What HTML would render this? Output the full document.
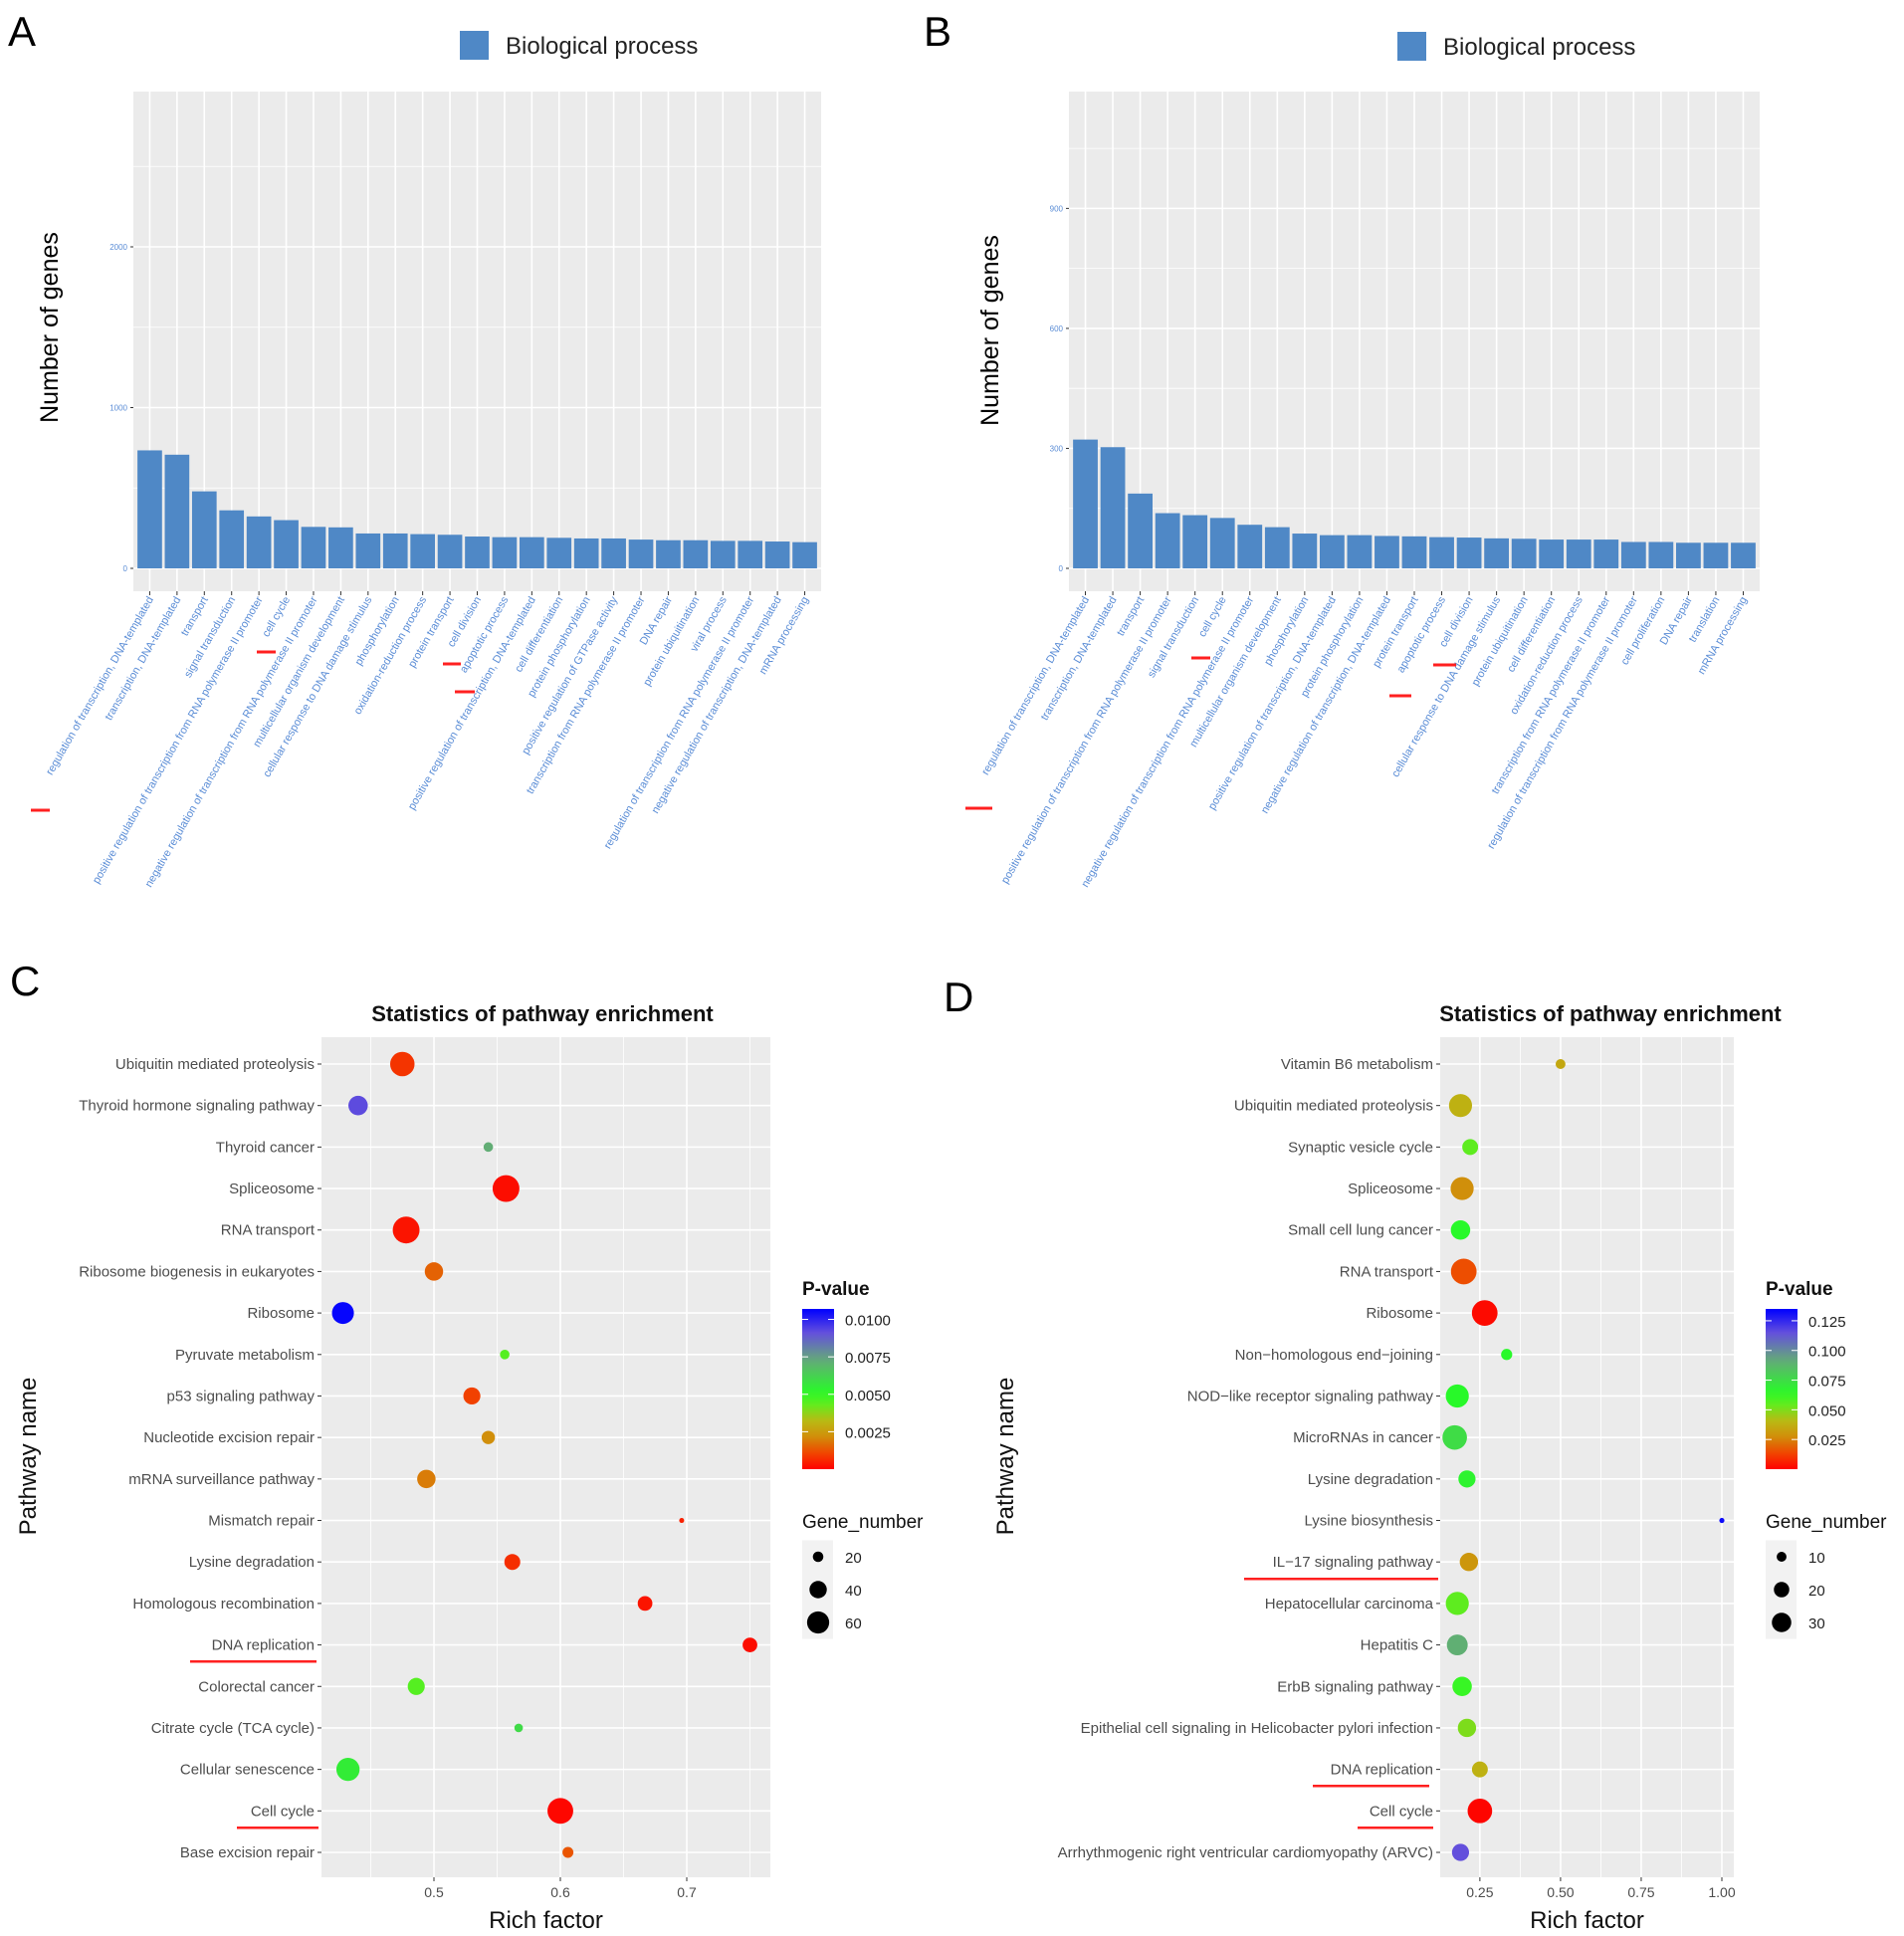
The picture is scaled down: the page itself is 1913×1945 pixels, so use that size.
<!DOCTYPE html>
<html><head><meta charset="utf-8"><style>
html,body{margin:0;padding:0;background:#fff;}
svg{display:block;font-family:"Liberation Sans",Arial,sans-serif;}
</style></head><body>
<svg id="fig" width="1913" height="1945" viewBox="0 0 1913 1945" xmlns="http://www.w3.org/2000/svg"></svg>
<script>
// ---- Panel A data ----
const catsA = ["regulation of transcription, DNA-templated","transcription, DNA-templated","transport","signal transduction","positive regulation of transcription from RNA polymerase II promoter","cell cycle","negative regulation of transcription from RNA polymerase II promoter","multicellular organism development","cellular response to DNA damage stimulus","phosphorylation","oxidation-reduction process","protein transport","cell division","apoptotic process","positive regulation of transcription, DNA-templated","cell differentiation","protein phosphorylation","positive regulation of GTPase activity","transcription from RNA polymerase II promoter","DNA repair","protein ubiquitination","viral process","regulation of transcription from RNA polymerase II promoter","negative regulation of transcription, DNA-templated","mRNA processing"];
const valsA = [734,707,479,361,323,300,258,255,217,217,213,209,198,194,194,190,186,186,179,175,175,171,171,167,163];
const ticksA = [0,1000,2000];
// ---- Panel B data ----
const catsB = ["regulation of transcription, DNA-templated","transcription, DNA-templated","transport","positive regulation of transcription from RNA polymerase II promoter","signal transduction","cell cycle","negative regulation of transcription from RNA polymerase II promoter","multicellular organism development","phosphorylation","positive regulation of transcription, DNA-templated","protein phosphorylation","negative regulation of transcription, DNA-templated","protein transport","apoptotic process","cell division","cellular response to DNA damage stimulus","protein ubiquitination","cell differentiation","oxidation-reduction process","transcription from RNA polymerase II promoter","regulation of transcription from RNA polymerase II promoter","cell proliferation","DNA repair","translation","mRNA processing"];
const valsB = [322,303,187,138,133,126,109,103,87,83,83,81,80,78,77,75,74,72,72,72,66,66,64,64,64];
const ticksB = [0,300,600,900];
// ---- Panel C data ----
const pathC = ["Ubiquitin mediated proteolysis","Thyroid hormone signaling pathway","Thyroid cancer","Spliceosome","RNA transport","Ribosome biogenesis in eukaryotes","Ribosome","Pyruvate metabolism","p53 signaling pathway","Nucleotide excision repair","mRNA surveillance pathway","Mismatch repair","Lysine degradation","Homologous recombination","DNA replication","Colorectal cancer","Citrate cycle (TCA cycle)","Cellular senescence","Cell cycle","Base excision repair"];
const richC = [0.475,0.44,0.543,0.557,0.478,0.5,0.428,0.556,0.53,0.543,0.494,0.696,0.562,0.667,0.75,0.486,0.567,0.432,0.6,0.606];
const pvalC = [0.0008,0.0092,0.0072,0.0002,0.0003,0.0015,0.0106,0.0045,0.001,0.0022,0.0019,0.0005,0.0007,0.0003,0.0002,0.0045,0.006,0.0055,0.0001,0.0013];
const geneC = [71,48,18,84,84,44,59,18,39,27,44,11,35,31,31,39,16,65,78,21];
const xticksC = [0.5,0.6,0.7];
const pticksC = [0.0025,0.005,0.0075,0.01];
const pticksLabC = ["0.0025","0.0050","0.0075","0.0100"];
const sizeLegC = [20,40,60];
// ---- Panel D data ----
const pathD = ["Vitamin B6 metabolism","Ubiquitin mediated proteolysis","Synaptic vesicle cycle","Spliceosome","Small cell lung cancer","RNA transport","Ribosome","Non\u2212homologous end\u2212joining","NOD\u2212like receptor signaling pathway","MicroRNAs in cancer","Lysine degradation","Lysine biosynthesis","IL\u221217 signaling pathway","Hepatocellular carcinoma","Hepatitis C","ErbB signaling pathway","Epithelial cell signaling in Helicobacter pylori infection","DNA replication","Cell cycle","Arrhythmogenic right ventricular cardiomyopathy (ARVC)"];
const richD = [0.5,0.19,0.22,0.195,0.19,0.2,0.265,0.333,0.18,0.172,0.21,1.0,0.216,0.18,0.18,0.195,0.21,0.25,0.25,0.19];
const pvalD = [0.035,0.038,0.055,0.028,0.065,0.015,0.002,0.065,0.065,0.075,0.067,0.132,0.03,0.055,0.09,0.062,0.05,0.038,0.001,0.115];
const geneD = [10,41,21,41,30,50,50,12,41,46,24,5,27,41,34,30,27,21,46,24];
const xticksD = [0.25,0.5,0.75,1.0];
const xticksLabD = ["0.25","0.50","0.75","1.00"];
const pticksD = [0.025,0.05,0.075,0.1,0.125];
const pticksLabD = ["0.025","0.050","0.075","0.100","0.125"];
const sizeLegD = [10,20,30];

const NS="http://www.w3.org/2000/svg";
const svg=document.getElementById('fig');
function mk(tag,attrs,parent,txt){const e=document.createElementNS(NS,tag);for(const k in attrs)e.setAttribute(k,attrs[k]);if(txt!==undefined)e.textContent=txt;(parent||svg).appendChild(e);return e;}

const stops=[[0,[255,0,0]],[0.1,[240,70,0]],[0.2,[210,140,10]],[0.3,[185,185,20]],[0.4,[100,235,30]],[0.48,[40,250,40]],[0.68,[100,170,120]],[0.85,[100,80,220]],[1,[0,0,255]]];
function cmap(t){t=Math.max(0,Math.min(1,t));for(let i=1;i<stops.length;i++){if(t<=stops[i][0]){const a=stops[i-1],b=stops[i];const f=(t-a[0])/(b[0]-a[0]);const c=a[1].map((v,j)=>Math.round(v+(b[1][j]-v)*f));return `rgb(${c[0]},${c[1]},${c[2]})`;}}return 'rgb(0,0,255)';}

function letter(t,x,y){const e=mk('text',{x:x,y:y,'font-size':42,'fill':'#000'},svg,t);

}
letter('A',8,46);letter('B',928,46);letter('C',10,1000);letter('D',948,1016);

function barPanel(id,cats,vals,ticks,o){
  const g=mk('g',{},svg);
  
  
  const bg=mk('rect',{x:o.x0,y:o.y0,width:o.x1-o.x0,height:o.y1-o.y0,fill:'#ebebeb'},g);
  
  
  const y=v=>o.zy-(v/o.vmax)*(o.zy-o.y0);
  const n=cats.length;const step=(o.x1-o.x0)/(n-1+1.2);
  const xc=i=>o.x0+step*(0.6+i);
  for(let k=0;k<ticks.length;k++){const v=ticks[k]+(ticks[1]-ticks[0])/2;if(y(v)>o.y0)mk('line',{x1:o.x0,x2:o.x1,y1:y(v),y2:y(v),stroke:'#fff','stroke-width':0.8},g);}
  ticks.forEach((t)=>{mk('line',{x1:o.x0,x2:o.x1,y1:y(t),y2:y(t),stroke:'#fff','stroke-width':1.6},g);
    const tl=mk('text',{x:o.x0-6,y:y(t)+3,'font-size':8,'fill':'#5b8dd6','text-anchor':'end'},g,String(t));
    
    
    mk('line',{x1:o.x0-3,x2:o.x0,y1:y(t),y2:y(t),stroke:'#333','stroke-width':1},g);});
  for(let i=0;i<n;i++) mk('line',{x1:xc(i),x2:xc(i),y1:o.y0,y2:o.y1,stroke:'#fff','stroke-width':1.6},g);
  for(let i=0;i<n;i++){
    const b=mk('rect',{x:xc(i)-step*0.45,y:y(vals[i]),width:step*0.9,height:o.zy-y(vals[i]),fill:'#4f88c6'},g);
    
    
    mk('line',{x1:xc(i),x2:xc(i),y1:o.y1,y2:o.y1+4,stroke:'#333','stroke-width':1},g);
    const lx=xc(i)+4,ly=o.y1+8;
    const l=mk('text',{x:lx,y:ly,'font-size':11,'fill':'#5b8dd6','text-anchor':'end',transform:`rotate(-60 ${lx} ${ly})`},g,cats[i]);
    
    
  }
  const yt=mk('text',{x:o.ytx,y:o.yty,'font-size':25,'fill':'#000','text-anchor':'middle',transform:`rotate(-90 ${o.ytx} ${o.yty})`},g,'Number of genes');
  
  
  const lk=mk('rect',{x:o.lx,y:o.ly,width:29,height:29,fill:'#4f88c6'},g);
  
  
  const lt=mk('text',{x:o.lx+46,y:o.ly+23,'font-size':24,'fill':'#222'},g,'Biological process');
  
  
  o.marks.forEach(m=>{const r=mk('rect',{x:m[0],y:m[2]-1.5,width:m[1]-m[0],height:3,fill:'#ff2020'},g);
    
    });
}
barPanel('a',catsA,valsA,ticksA,{x0:134,x1:825,y0:92,y1:594,zy:571,vmax:(571-92)/0.1615,ytx:58,yty:329,lx:462,ly:31,marks:[[31,50,814],[258,277,655],[445,463,667],[457,477,695]]});
barPanel('b',catsB,valsB,ticksB,{x0:1074,x1:1768,y0:92,y1:594,zy:571,vmax:(571-92)/0.4018,ytx:1003,yty:332,lx:1404,ly:32,marks:[[970,997,812],[1197,1216,661],[1396,1418,699],[1440,1463,668]]});

function dotPanel(id,paths,rich,pv,genes,o){
  const g=mk('g',{},svg);
  
  
  const y0=1042,y1=1886;
  const bg=mk('rect',{x:o.x0,y:y0,width:o.x1-o.x0,height:y1-y0,fill:'#ebebeb'},g);
  
  
  const X=v=>o.x0+(v-o.xmin)/(o.xmax-o.xmin)*(o.x1-o.x0);
  const n=paths.length;const rowY=i=>1069+i*(1861-1069)/(n-1);
  o.minor.forEach(v=>mk('line',{x1:X(v),x2:X(v),y1:y0,y2:y1,stroke:'#fff','stroke-width':0.8},g));
  o.xt.forEach((v,k)=>{mk('line',{x1:X(v),x2:X(v),y1:y0,y2:y1,stroke:'#fff','stroke-width':1.6},g);
    mk('line',{x1:X(v),x2:X(v),y1:y1,y2:y1+4,stroke:'#333'},g);
    const t=mk('text',{x:X(v),y:y1+20,'font-size':14,'fill':'#4d4d4d','text-anchor':'middle'},g,o.xtl[k]);
    
    });
  for(let i=0;i<n;i++){const yy=rowY(i);
    mk('line',{x1:o.x0,x2:o.x1,y1:yy,y2:yy,stroke:'#fff','stroke-width':1.6},g);
    mk('line',{x1:o.x0-4,x2:o.x0,y1:yy,y2:yy,stroke:'#333'},g);
    const t=mk('text',{x:o.x0-7,y:yy+5,'font-size':15,'fill':'#4d4d4d','text-anchor':'end'},g,paths[i]);
    
    }
  for(let i=0;i<n;i++){
    const c=mk('circle',{cx:X(rich[i]),cy:rowY(i),r:Math.sqrt(Math.max(4,o.ra*genes[i]+o.rb)),fill:cmap(pv[i]/o.pmax)},g);
    
    }
  const tt=mk('text',{x:o.tx,y:1026,'font-size':22,'font-weight':'bold','fill':'#111','text-anchor':'middle'},g,'Statistics of pathway enrichment');
  
  
  const xt=mk('text',{x:(o.x0+o.x1)/2,y:1937,'font-size':24,'fill':'#111','text-anchor':'middle'},g,'Rich factor');
  
  
  const yt=mk('text',{x:o.ytx,y:1463,'font-size':24,'fill':'#111','text-anchor':'middle',transform:`rotate(-90 ${o.ytx} 1463)`},g,'Pathway name');
  
  
  const lg=mk('text',{x:o.lx,y:1301,'font-size':19,'font-weight':'bold','fill':'#111'},g,'P-value');
  
  
  const defs=mk('defs',{},g);const gr=mk('linearGradient',{id:'grad'+id,x1:0,y1:1,x2:0,y2:0},defs);
  for(let k=0;k<=20;k++)mk('stop',{offset:k/20,'stop-color':cmap(k/20)},gr);
  const cbTop=1315,cbBot=1476;
  const cb=mk('rect',{x:o.lx,y:cbTop,width:32,height:cbBot-cbTop,fill:`url(#grad${id})`},g);
  
  
  o.pt.forEach((p,k)=>{const yy=cbBot-(p/o.pmax)*(cbBot-cbTop);
    mk('line',{x1:o.lx,x2:o.lx+6,y1:yy,y2:yy,stroke:'#fff'},g);mk('line',{x1:o.lx+26,x2:o.lx+32,y1:yy,y2:yy,stroke:'#fff'},g);
    const t=mk('text',{x:o.lx+43,y:yy+6,'font-size':15,'fill':'#222'},g,o.ptl[k]);
    
    });
  const sg=mk('text',{x:o.lx,y:1535,'font-size':19,'fill':'#111'},g,'Gene_number');
  
  
  o.sl.forEach((s,k)=>{const yy=1564+k*33;
    mk('rect',{x:o.lx,y:yy-16.5,width:31,height:33,fill:'#f2f2f2'},g);
    const c=mk('circle',{cx:o.lx+16,cy:yy,r:Math.sqrt(o.ra*s+o.rb),fill:'#000'},g);
    
    
    const t=mk('text',{x:o.lx+43,y:yy+6,'font-size':15,'fill':'#222'},g,String(s));
    
    });
  o.marks.forEach(m=>{const r=mk('rect',{x:m[0],y:m[2]-1,width:m[1]-m[0],height:2.5,fill:'#ff2020'},g);
    
    });
}
dotPanel('c',pathC,richC,pvalC,geneC,{x0:323,x1:774,xmin:0.5-(436-323)/1270,xmax:0.5+(774-436)/1270,xt:xticksC,xtl:["0.5","0.6","0.7"],minor:[0.45,0.55,0.65,0.75],ra:2.4,rb:-20,pmax:0.0107,pt:pticksC,ptl:pticksLabC,sl:sizeLegC,lx:806,tx:545,ytx:36,marks:[[191,318,1669],[238,320,1836]]});
dotPanel('d',pathD,richD,pvalD,geneD,{x0:1447,x1:1742,xmin:0.127,xmax:1.037,xt:xticksD,xtl:xticksLabD,minor:[0.375,0.625,0.875],ra:3.55,rb:-11,pmax:0.135,pt:pticksD,ptl:pticksLabD,sl:sizeLegD,lx:1774,tx:1618,ytx:1018,marks:[[1250,1445,1586],[1319,1436,1794],[1364,1440,1836]]});
</script>
</body></html>
